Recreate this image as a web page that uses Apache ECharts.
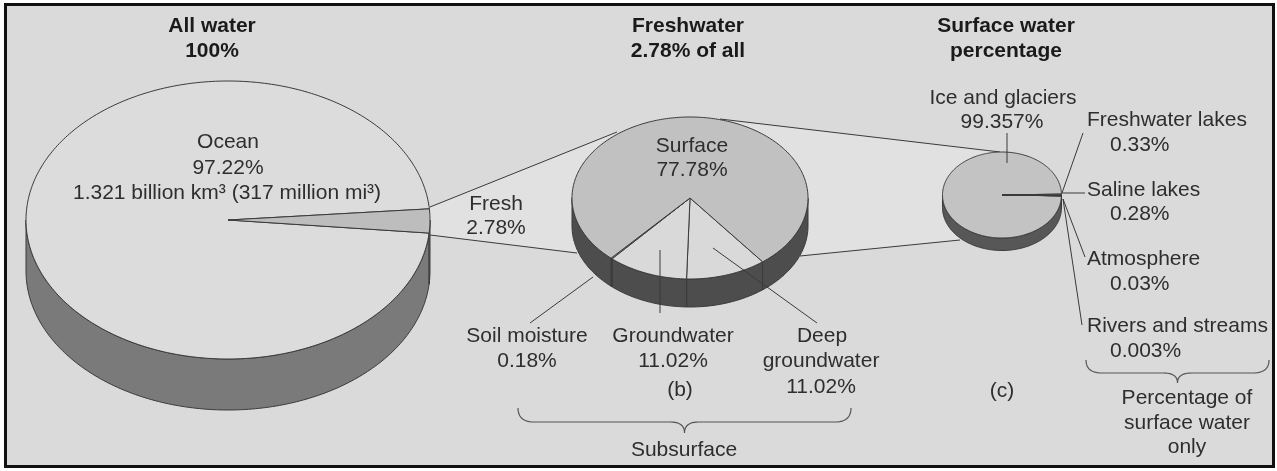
<!DOCTYPE html>
<html>
<head>
<meta charset="utf-8">
<script src="https://cdn.jsdelivr.net/npm/echarts@6/dist/echarts.min.js"></script>
<style>
  html, body { margin: 0; padding: 0; background: #fff; }
  #chart { width: 1277px; height: 471px; }
</style>
</head>
<body>
<div id="chart"></div>
<script>
// all water
const oceanNames = ['Ocean', 'Fresh'];
const oceanValues = [97.22, 2.78];
// freshwater (b)
const freshNames = ['Deep groundwater', 'Groundwater', 'Soil moisture', 'Surface'];
const freshValues = [11.02, 11.02, 0.18, 77.78];
// surface water (c)
const surfaceNames = ['Ice and glaciers', 'Freshwater lakes', 'Saline lakes', 'Atmosphere', 'Rivers and streams'];
const surfaceValues = [99.357, 0.33, 0.28, 0.03, 0.003];

const FONT = '"Liberation Sans", Arial, sans-serif';
const TXT = '#2e2e2e';
const LINE = '#3a3a3a';

// disk layout: centre, radii, thickness, start angle (deg, clockwise from 3 o'clock)
const diskA = { cx: 228, cy: 220, rx: 202, ry: 139, h: 51, start: 5.4,
  top: ['#dcdcdc', '#bdbdbd'], side: '#7a7a7a' };
const diskB = { cx: 690, cy: 198, rx: 118, ry: 81, h: 28, start: 52,
  top: ['#d9d9d9', '#d9d9d9', '#d9d9d9', '#c1c1c1'], side: '#4d4d4d' };
const diskC = { cx: 1002, cy: 195, rx: 59.5, ry: 43, h: 12.5, start: 1.1,
  top: ['#c3c3c3', '#c3c3c3', '#c3c3c3', '#c3c3c3', '#c3c3c3'], side: '#575757' };

function diskSeries(name, names, values, d) {
  const total = values.reduce((a, b) => a + b, 0);
  const spans = [];
  let a = d.start;
  values.forEach(v => { const b = a + v / total * 360; spans.push([a, b]); a = b; });
  const pt = (t, dy) => {
    const r = t * Math.PI / 180;
    return [d.cx + d.rx * Math.cos(r), d.cy + d.ry * Math.sin(r) + dy];
  };
  const arc = (t1, t2, dy) => {
    const n = Math.max(2, Math.ceil(Math.abs(t2 - t1)));
    const pts = [];
    for (let i = 0; i <= n; i++) pts.push(pt(t1 + (t2 - t1) * i / n, dy));
    return pts;
  };
  return {
    type: 'custom',
    name: name,
    coordinateSystem: 'none',
    silent: true,
    data: values.map((v, i) => ({ name: names[i], value: v })),
    renderItem(params, api) {
      const i = params.dataIndex;
      const [a1, a2] = spans[i];
      const children = [];
      // visible side wall (front half of the disk)
      for (let k = -1; k <= 1; k++) {
        const lo = Math.max(a1, 360 * k), hi = Math.min(a2, 180 + 360 * k);
        if (hi > lo) {
          children.push({
            type: 'polygon',
            shape: { points: arc(lo, hi, 0).concat(arc(hi, lo, d.h)) },
            style: { fill: d.side, stroke: LINE, lineWidth: 1 }
          });
        }
      }
      children.push({
        type: 'polygon',
        shape: { points: [[d.cx, d.cy]].concat(arc(a1, a2, 0)) },
        style: { fill: d.top[i], stroke: LINE, lineWidth: 1 }
      });
      return { type: 'group', children: children };
    }
  };
}

const pct = v => v + '%';

function text(x, y, str, opt) {
  opt = opt || {};
  return {
    type: 'text', z: 20, silent: true,
    style: {
      text: str, x: x, y: y,
      font: (opt.bold ? 'bold ' : '') + '21px ' + FONT,
      fill: opt.bold ? '#1a1a1a' : TXT,
      align: opt.align || 'center', verticalAlign: 'middle'
    }
  };
}
function line(x1, y1, x2, y2, z) {
  return { type: 'line', z: z === undefined ? 20 : z, silent: true,
    shape: { x1: x1, y1: y1, x2: x2, y2: y2 },
    style: { stroke: LINE, lineWidth: 1 } };
}
// curly brace as a sampled polyline of quadratic curves
function brace(l, r, top, bot, tip) {
  const m = (l + r) / 2;
  const segs = [
    [[l, top], [l, bot], [l + 16, bot]],
    [[m - 14, bot], [m, bot], [m, tip]],
    [[m, tip], [m, bot], [m + 14, bot]],
    [[r - 16, bot], [r, bot], [r, top]]
  ];
  const pts = [];
  segs.forEach(s => {
    for (let i = 0; i <= 12; i++) {
      const t = i / 12, u = 1 - t;
      pts.push([
        u * u * s[0][0] + 2 * u * t * s[1][0] + t * t * s[2][0],
        u * u * s[0][1] + 2 * u * t * s[1][1] + t * t * s[2][1]
      ]);
    }
  });
  return { type: 'polyline', z: 20, silent: true,
    shape: { points: pts },
    style: { fill: null, stroke: '#555', lineWidth: 1.2 } };
}

const graphics = [
  { type: 'rect', z: -10, silent: true,
    shape: { x: 5.5, y: 4.5, width: 1268, height: 462 },
    style: { fill: '#dadada', stroke: '#111', lineWidth: 3 } },
  // zoom wedges
  { type: 'polygon', z: 1, silent: true,
    shape: { points: [[430, 207], [617, 132], [690, 198], [577, 253], [430, 235]] },
    style: { fill: '#e1e1e1' } },
  { type: 'polygon', z: 1, silent: true,
    shape: { points: [[720, 119], [1000, 152], [1002, 195], [960, 240], [800, 256], [690, 198]] },
    style: { fill: '#e1e1e1' } },
  line(430, 207, 617, 132, 1),
  line(430, 235, 577, 253, 1),
  line(720, 119, 1000, 152, 1),
  line(800, 256, 960, 240, 1),

  // titles
  text(212, 26, 'All water', { bold: true }),
  text(212, 51, '100%', { bold: true }),
  text(688, 26, 'Freshwater', { bold: true }),
  text(688, 51, '2.78% of all', { bold: true }),
  text(1006, 26, 'Surface water', { bold: true }),
  text(1006, 51, 'percentage', { bold: true }),

  // (a)
  text(228, 142, oceanNames[0]),
  text(228, 168, pct(oceanValues[0])),
  text(227, 193, '1.321 billion km³ (317 million mi³)'),
  text(496, 204, oceanNames[1]),
  text(496, 228, pct(oceanValues[1])),

  // (b)
  text(692, 146, freshNames[3]),
  text(692, 170, pct(freshValues[3])),
  text(527, 336, freshNames[2]),
  text(527, 361, pct(freshValues[2])),
  text(673, 336, freshNames[1]),
  text(673, 361, pct(freshValues[1])),
  text(822, 336, 'Deep'),
  text(821, 361, 'groundwater'),
  text(821, 387, pct(freshValues[0])),
  text(680, 390, '(b)'),
  line(660, 250, 660, 313),
  line(713, 248, 817, 323),
  line(593, 277, 530, 323),
  brace(518, 851, 408, 422, 433),
  text(684, 450, 'Subsurface'),

  // (c)
  text(1003, 98, surfaceNames[0]),
  text(1002, 122, pct(surfaceValues[0])),
  line(1007, 133, 1007, 163),
  text(1087, 120, surfaceNames[1], { align: 'left' }),
  text(1110, 145, pct(surfaceValues[1]), { align: 'left' }),
  text(1087, 190, surfaceNames[2], { align: 'left' }),
  text(1110, 214, pct(surfaceValues[2]), { align: 'left' }),
  text(1087, 259, surfaceNames[3], { align: 'left' }),
  text(1110, 284, pct(surfaceValues[3]), { align: 'left' }),
  text(1087, 326, surfaceNames[4], { align: 'left' }),
  text(1110, 351, pct(surfaceValues[4]), { align: 'left' }),
  line(1062, 193, 1083, 133),
  line(1062, 193, 1085, 193),
  line(1063, 199, 1085, 257),
  line(1063, 199, 1082, 325),
  text(1002, 391, '(c)'),
  brace(1086, 1269, 360, 373, 383),
  text(1187, 398, 'Percentage of'),
  text(1187, 423, 'surface water'),
  text(1187, 447, 'only')
];

const chart = echarts.init(document.getElementById('chart'), null, { renderer: 'canvas' });
chart.setOption({
  backgroundColor: '#ffffff',
  animation: false,
  graphic: graphics,
  series: [
    diskSeries('All water', oceanNames, oceanValues, diskA),
    diskSeries('Freshwater', freshNames, freshValues, diskB),
    diskSeries('Surface water', surfaceNames, surfaceValues, diskC)
  ]
});
</script>
</body>
</html>
